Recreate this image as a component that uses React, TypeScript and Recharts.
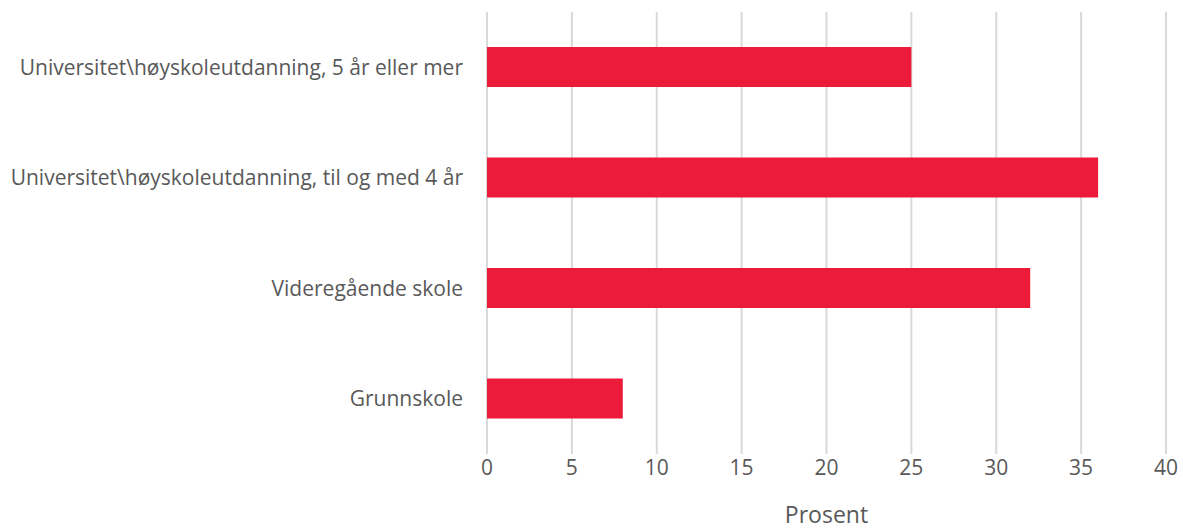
import React from "react";
import { BarChart, Bar, XAxis, YAxis, CartesianGrid } from "recharts";

const categories = [
  "Universitet\\høyskoleutdanning, 5 år eller mer",
  "Universitet\\høyskoleutdanning, til og med 4 år",
  "Videregående skole",
  "Grunnskole",
];
const values = [25, 36, 32, 8];
const xTicks = [0, 5, 10, 15, 20, 25, 30, 35, 40];

const data = categories.map((name, i) => ({ name, value: values[i] }));

const FONT = "'Open Sans', 'Noto Sans', sans-serif";

const YTick = (props: any) => {
  const { x, y, payload } = props;
  return (
    <text
      x={x}
      y={y}
      dy="0.35em"
      textAnchor="end"
      fill="#595959"
      fontSize={21}
      fontFamily={FONT}
    >
      {payload.value}
    </text>
  );
};

const App = () => {
  return (
    <div style={{ position: "absolute", left: 0, top: 0, background: "#fff" }}>
      <BarChart
        width={1183}
        height={532}
        data={data}
        layout="vertical"
        margin={{ top: 12, right: 17, bottom: 0, left: 0 }}
      >
        <CartesianGrid horizontal={false} stroke="#d9d9d9" strokeWidth={2} />
        <XAxis
          type="number"
          domain={[0, 40]}
          ticks={xTicks}
          axisLine={false}
          tickLine={false}
          tickSize={0}
          tickMargin={6}
          height={78}
          tick={{ fill: "#595959", fontSize: 21, fontFamily: FONT }}
          label={{
            value: "Prosent",
            position: "insideBottom",
            offset: 9,
            fill: "#595959",
            fontSize: 23,
            fontFamily: FONT,
          }}
        />
        <YAxis
          type="category"
          dataKey="name"
          width={487}
          axisLine={false}
          tickLine={false}
          tickSize={0}
          tickMargin={24}
          tick={<YTick />}
        />
        <Bar dataKey="value" fill="#ED1B3A" barSize={40} isAnimationActive={false} />
      </BarChart>
    </div>
  );
};

export default App;
